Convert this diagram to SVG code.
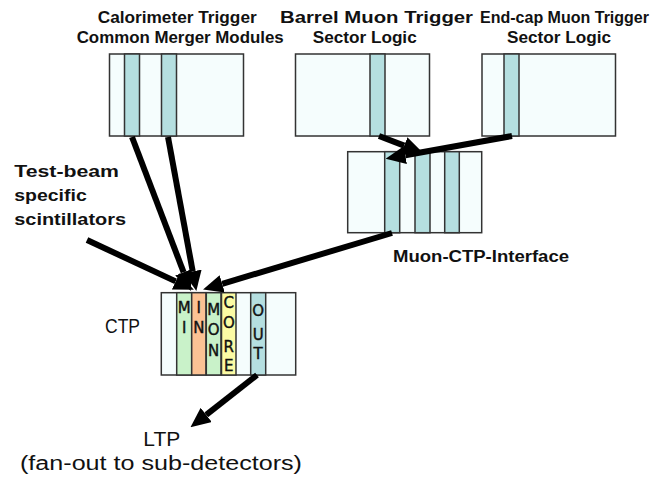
<svg xmlns="http://www.w3.org/2000/svg" width="669" height="480" viewBox="0 0 669 480">
<defs>
<style>
.box{fill:#f5fdfd;stroke:#333;stroke-width:1.5}
.strip{stroke:#333;stroke-width:1.5}
.blue{fill:#b5dfe0}
.green{fill:#c9f2c9}
.orange{fill:#fbc294}
.yellow{fill:#fbfba4}
.title{font-family:"Liberation Sans",Arial,sans-serif;font-weight:bold;font-size:16px;fill:#111}
.lbl{font-family:"Liberation Sans",Arial,sans-serif;font-size:20px;fill:#111}
.let{font-family:"DejaVu Sans",sans-serif;font-size:15px;fill:#111;text-anchor:middle;stroke:#111;stroke-width:0.4}
.arr{stroke:#000;stroke-width:6;fill:none;marker-end:url(#ah)}
</style>
<marker id="ah" markerUnits="userSpaceOnUse" markerWidth="20" markerHeight="18" viewBox="0 0 20 18" refX="0" refY="9" orient="auto">
<path d="M0,0 L20,9 L0,18 z" fill="#000"/>
</marker>
</defs>
<rect width="669" height="480" fill="#fff"/>

<g id="calo">
<rect class="box" x="109.5" y="54" width="134" height="82"/>
<rect class="strip blue" x="124.5" y="54" width="15" height="82"/>
<rect class="strip blue" x="161.5" y="54" width="15" height="82"/>
<text class="title" x="97.7" y="23" textLength="159" lengthAdjust="spacingAndGlyphs">Calorimeter Trigger</text>
<text class="title" x="76.7" y="43" textLength="207" lengthAdjust="spacingAndGlyphs">Common Merger Modules</text>
</g>

<g id="barrel">
<rect class="box" x="295.5" y="54" width="134" height="82"/>
<rect class="strip blue" x="370" y="54" width="15" height="82"/>
<text class="title" x="280" y="23" textLength="193" lengthAdjust="spacingAndGlyphs">Barrel Muon Trigger</text>
<text class="title" x="312.7" y="43" textLength="104" lengthAdjust="spacingAndGlyphs">Sector Logic</text>
</g>

<g id="endcap">
<rect class="box" x="482" y="54" width="133.5" height="82"/>
<rect class="strip blue" x="504" y="54" width="15" height="82"/>
<text class="title" x="480" y="23" textLength="169" lengthAdjust="spacingAndGlyphs">End-cap Muon Trigger</text>
<text class="title" x="507" y="43" textLength="104" lengthAdjust="spacingAndGlyphs">Sector Logic</text>
</g>

<g id="mui">
<rect class="box" x="347.7" y="151.7" width="134" height="81"/>
<rect class="strip blue" x="384.7" y="151.7" width="15" height="81"/>
<rect class="strip blue" x="415" y="151.7" width="15" height="81"/>
<rect class="strip blue" x="444.7" y="151.7" width="14.6" height="81"/>
<text class="title" x="393" y="262" textLength="176" lengthAdjust="spacingAndGlyphs">Muon-CTP-Interface</text>
</g>

<g id="testbeam">
<text class="title" x="14.3" y="177" textLength="104.7" lengthAdjust="spacingAndGlyphs">Test-beam</text>
<text class="title" x="14.3" y="201" textLength="72.4" lengthAdjust="spacingAndGlyphs">specific</text>
<text class="title" x="14.3" y="225" textLength="111.7" lengthAdjust="spacingAndGlyphs">scintillators</text>
</g>

<g id="ctp">
<rect class="box" x="161.3" y="292.7" width="134.4" height="82.3"/>
<rect class="strip green" x="176.7" y="292.7" width="15" height="82.3"/>
<rect class="strip orange" x="191.7" y="292.7" width="14.3" height="82.3"/>
<rect class="strip green" x="206.3" y="292.7" width="14.7" height="82.3"/>
<rect class="strip yellow" x="221.5" y="292.7" width="14.5" height="82.3"/>
<rect class="strip blue" x="250.7" y="292.7" width="15" height="82.3"/>
<text class="let" x="184.2" y="313">M</text>
<text class="let" x="184.2" y="333">I</text>
<text class="let" x="198.8" y="313">I</text>
<text class="let" x="198.8" y="333">N</text>
<text class="let" x="213.7" y="315">M</text>
<text class="let" x="213.7" y="335">O</text>
<text class="let" x="213.7" y="356">N</text>
<text class="let" x="228.8" y="308">C</text>
<text class="let" x="228.8" y="328">O</text>
<text class="let" x="228.8" y="352">R</text>
<text class="let" x="228.8" y="371">E</text>
<text class="let" x="258.2" y="316">O</text>
<text class="let" x="258.2" y="339.5">U</text>
<text class="let" x="258.2" y="358.5">T</text>
<text class="lbl" x="105" y="333" textLength="35" lengthAdjust="spacingAndGlyphs">CTP</text>
</g>

<g id="ltp">
<text class="lbl" x="143.3" y="446" textLength="37" lengthAdjust="spacingAndGlyphs">LTP</text>
<text class="lbl" x="20" y="470" textLength="282" lengthAdjust="spacingAndGlyphs">(fan-out to sub-detectors)</text>
</g>

<g id="connectors">
<line class="arr" x1="132" y1="137" x2="183.6" y2="272.2"/>
<line class="arr" x1="168" y1="137" x2="192.7" y2="271.3"/>
<line class="arr" x1="87" y1="240" x2="175.7" y2="281.4"/>
<line class="arr" x1="392" y1="233" x2="222.2" y2="283.8"/>
<line class="arr" x1="379" y1="136" x2="404.2" y2="145.6"/>
<line class="arr" x1="512" y1="136" x2="405.3" y2="155.2"/>
<line class="arr" x1="257" y1="375" x2="206.2" y2="414.9"/>
</g>
</svg>
